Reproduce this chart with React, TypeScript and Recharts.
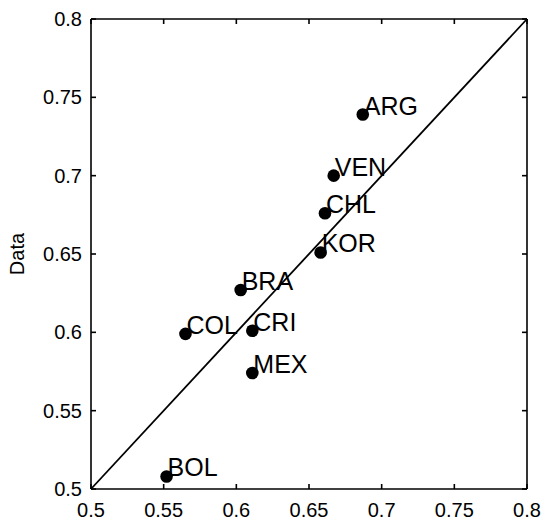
import { Scatter, ScatterChart, XAxis, YAxis } from "recharts";

const COUNTRIES = ["ARG", "VEN", "CHL", "KOR", "BRA", "COL", "CRI", "MEX", "BOL"];
const MODEL = [0.687, 0.667, 0.661, 0.658, 0.603, 0.565, 0.611, 0.611, 0.552];
const DATA = [0.739, 0.7, 0.676, 0.651, 0.627, 0.599, 0.601, 0.574, 0.508];
const TICKS = [0.5, 0.55, 0.6, 0.65, 0.7, 0.75, 0.8];
const DOMAIN: [number, number] = [0.5, 0.8];
// 45-degree line ends
const DIAG_X = [0.5, 0.8];
const DIAG_Y = [0.5, 0.8];

const FONT = '"Liberation Sans", Arial, Helvetica, sans-serif';
const LINE = { stroke: "#000", strokeWidth: 1.6 };

const points = COUNTRIES.map((name, i) => ({ name, x: MODEL[i], y: DATA[i] }));
const diag = DIAG_X.map((x, i) => ({ x, y: DIAG_Y[i] }));

function Dot(props: any) {
  const { cx, cy, payload } = props;
  return (
    <g>
      <circle cx={cx} cy={cy} r={6.3} fill="#000" />
      <text x={cx + 1} y={cy} fill="#000" style={{ fontSize: 25, fontFamily: FONT }}>
        {payload.name}
      </text>
    </g>
  );
}

const NoTick = () => <g />;

export default function App() {
  const tickStyle = { fill: "#000", fontSize: 20, fontFamily: FONT };
  return (
    <div
      style={{ position: "absolute", left: 0, top: 0, width: 545, height: 522, background: "#fff", fontFamily: FONT }}
    >
      <ScatterChart width={545} height={522} margin={{ top: 17, right: 16, bottom: 0, left: 0 }}>
        <XAxis
          type="number"
          dataKey="x"
          domain={DOMAIN}
          ticks={TICKS}
          height={33}
          tickSize={-5}
          tickMargin={19}
          axisLine={LINE}
          tickLine={LINE}
          tick={tickStyle}
        />
        <XAxis
          xAxisId="top"
          orientation="top"
          type="number"
          dataKey="x"
          domain={DOMAIN}
          ticks={TICKS}
          height={2}
          tickSize={-5}
          tickMargin={0}
          axisLine={LINE}
          tickLine={LINE}
          tick={NoTick}
        />
        <YAxis
          type="number"
          dataKey="y"
          domain={DOMAIN}
          ticks={TICKS}
          width={91}
          tickSize={-5}
          tickMargin={14}
          axisLine={LINE}
          tickLine={LINE}
          tick={tickStyle}
        />
        <YAxis
          yAxisId="right"
          orientation="right"
          type="number"
          dataKey="y"
          domain={DOMAIN}
          ticks={TICKS}
          width={2}
          tickSize={-5}
          tickMargin={0}
          axisLine={LINE}
          tickLine={LINE}
          tick={NoTick}
        />
        <Scatter
          data={diag}
          xAxisId="top"
          yAxisId="right"
          line={{ stroke: "#000", strokeWidth: 1.8 }}
          shape={() => null}
          isAnimationActive={false}
        />
        <Scatter data={points} fill="#000" shape={<Dot />} isAnimationActive={false} />
      </ScatterChart>
      <div
        style={{
          position: "absolute",
          left: 17,
          top: 254,
          transform: "translate(-50%, -50%) rotate(-90deg)",
          fontSize: 20,
          lineHeight: 1,
          whiteSpace: "nowrap",
          color: "#000",
        }}
      >
        Data
      </div>
    </div>
  );
}
